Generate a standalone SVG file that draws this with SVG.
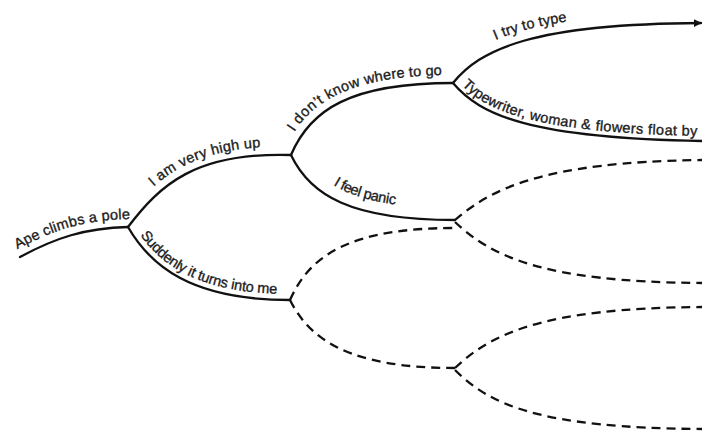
<svg xmlns="http://www.w3.org/2000/svg" width="702" height="434" viewBox="0 0 702 434">
<style>
.ln{fill:none;stroke:#111;stroke-width:2.3;stroke-linecap:round}
.dl{fill:none;stroke:#111;stroke-width:2.3;stroke-dasharray:9 6}
.lb{font-family:"Liberation Sans",Arial,sans-serif;font-size:14.5px;fill:#1c1c1c;stroke:#1c1c1c;stroke-width:0.35}
</style>
<defs>
<marker id="ah" viewBox="0 0 10 10" refX="9" refY="5" markerWidth="3.6" markerHeight="3.6" orient="auto" markerUnits="strokeWidth">
<path d="M0,0 L10,5 L0,10 Z" fill="#111"/>
</marker>
<path id="pA" d="M20,257 C55,238 85,228 128,227"/>
<path id="pB" d="M128,227 C160,185 195,152 291,155"/>
<path id="pC" d="M128,227 C150,265 190,300 290,300"/>
<path id="pD" d="M291,155 C310,110 350,83 453,83"/>
<path id="pE" d="M291,155 C310,195 350,220 455,220"/>
<path id="pF" d="M453,83 C480,50 530,24 701,23"/>
<path id="pG" d="M453,83 C480,115 530,138 702,141"/>
</defs>
<g id="branches">
<g id="ape"><use href="#pA" class="ln"/><text class="lb" dy="-8"><textPath href="#pA" startOffset="1">Ape climbs a pole</textPath></text></g>
<g id="high"><use href="#pB" class="ln"/><text class="lb" dy="-8"><textPath href="#pB" startOffset="46">I am very high up</textPath></text></g>
<g id="suddenly"><use href="#pC" class="ln"/><text class="lb" dy="-6"><textPath href="#pC" startOffset="14">Suddenly it turns into me</textPath></text></g>
<g id="dontknow"><use href="#pD" class="ln"/><text class="lb" dy="-8"><textPath href="#pD" startOffset="21">I don’t know where to go</textPath></text></g>
<g id="panic"><use href="#pE" class="ln"/><text class="lb" dy="-12"><textPath href="#pE" startOffset="55">I feel panic</textPath></text></g>
<g id="type"><use href="#pF" class="ln" marker-end="url(#ah)"/><text class="lb" dy="-10"><textPath href="#pF" startOffset="58">I try to type</textPath></text></g>
<g id="float"><use href="#pG" class="ln"/><text class="lb" dy="-5" letter-spacing="0.4"><textPath href="#pG" startOffset="8">Typewriter, woman &amp; flowers float by</textPath></text></g>
</g>
<g id="connectors">
<path class="dl" d="M455,220 C490,190 540,162 702,160"/>
<path class="dl" d="M455,222 C490,255 540,282 702,283"/>
<path class="dl" d="M290,300 C310,255 350,228 455,228"/>
<path class="dl" d="M290,300 C310,340 350,368 455,368"/>
<path class="dl" d="M455,368 C490,335 540,308 702,307"/>
<path class="dl" d="M455,370 C490,405 540,428 702,429"/>
</g>
</svg>
